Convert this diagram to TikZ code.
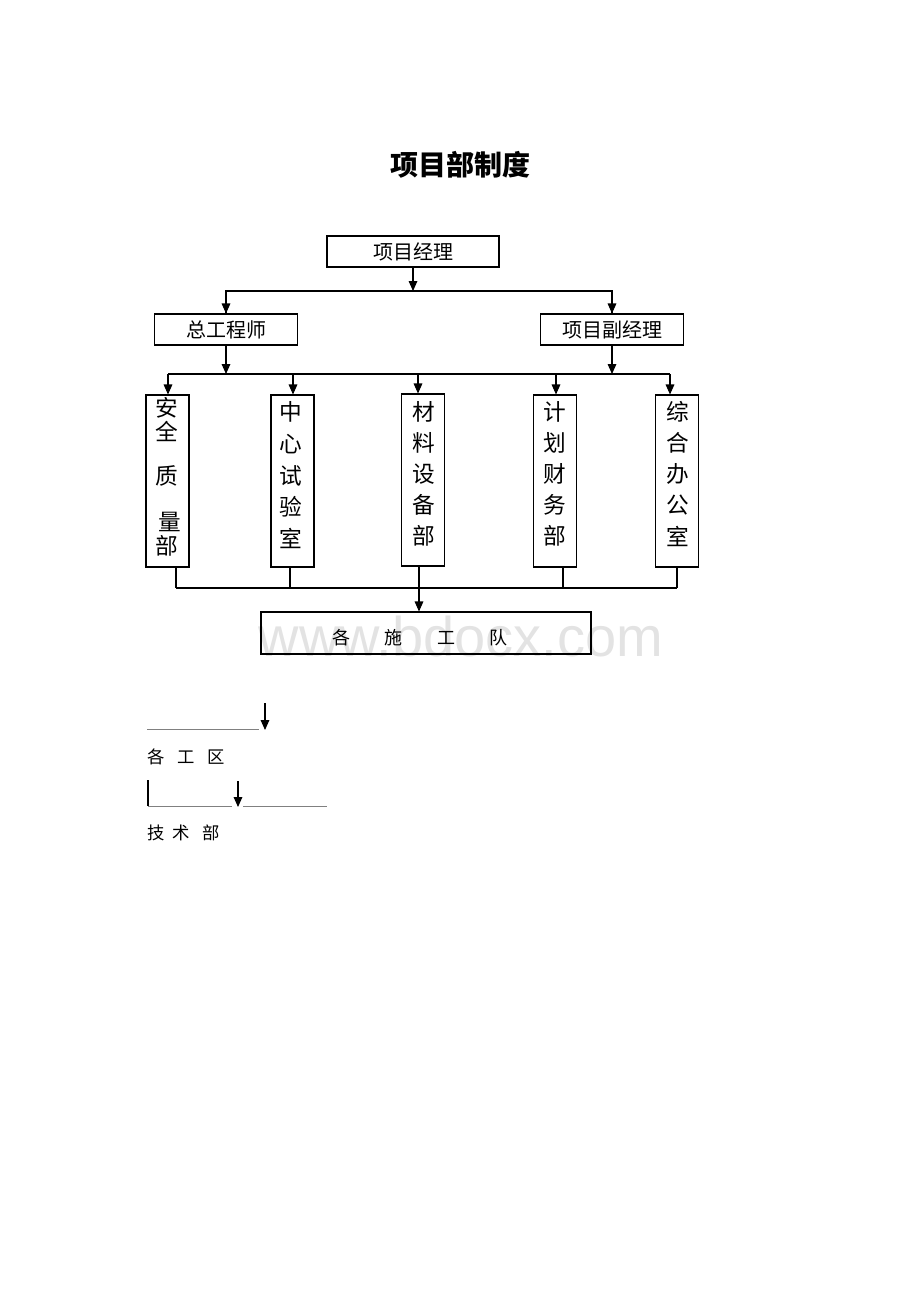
\documentclass[tikz,border=0pt]{standalone}
\usepackage{fontspec}
\setmainfont{Noto Sans CJK SC}
\newfontfamily\wmfont{Liberation Sans}
\usetikzlibrary{arrows.meta}
\begin{document}
\begin{tikzpicture}[x=0.75pt,y=-0.75pt,
  box/.style={draw, line width=0.8pt, inner sep=0pt, minimum height=23.25pt, font=\fontsize{15}{18}\selectfont},
  vbox/.style={draw, line width=0.8pt, inner sep=0pt, minimum width=32.25pt, minimum height=129pt},
  vch/.style={inner sep=0pt, font=\fontsize{17}{20}\selectfont},
  arr/.style={line width=0.8pt, -{Triangle[length=7.5pt,width=6.5pt]}},
  ln/.style={line width=0.8pt},
  uline/.style={line width=0.6pt, draw=gray},
  small/.style={inner sep=0pt, font=\fontsize{13}{15}\selectfont, anchor=west}]
\useasboundingbox (0,0) rectangle (920,1302);
% watermark
\node[text=black!11, font=\wmfont\fontsize{42}{42}\selectfont, inner sep=0pt] (wm) at (461,636) {www.bdocx.com};
% title
\node[font=\bfseries\fontsize{21}{25}\selectfont, inner sep=0pt] (title) at (460,165) {项目部制度};
% top boxes
\node[box, minimum width=129pt] (pm) at (413,251.5) {项目经理};
\node[box, minimum width=107.25pt] (ce) at (226,329.5) {总工程师};
\node[box, minimum width=107.25pt] (dm) at (612,329.5) {项目副经理};
\coordinate (j1) at (413,291);
\draw[arr] (pm.south) -- (j1);
\draw[ln] (j1) -| (ce.north);
\draw[ln] (j1) -| (dm.north);
\draw[arr] (j1 -| ce.north) -- (ce.north);
\draw[arr] (j1 -| dm.north) -- (dm.north);
% second bus
\coordinate (j2) at (226,374);
\coordinate (j3) at (612,374);
\draw[arr] (ce.south) -- (j2);
\draw[arr] (dm.south) -- (j3);
\node[vbox] (v1) at (167.5,481) {};
\node[vbox] (v2) at (292.5,481) {};
\node[vbox] (v3) at (423,480) {};
\node[vbox] (v4) at (555,481) {};
\node[vbox] (v5) at (677,481) {};
\coordinate (t1) at (168,374);
\coordinate (t2) at (293,374);
\coordinate (t3) at (418,374);
\coordinate (t4) at (556,374);
\coordinate (t5) at (670,374);
\draw[ln] (t1) -- (t5);
\foreach \i in {1,...,5} \draw[arr] (t\i) -- (t\i |- v\i.north);
% vertical texts
\foreach \c/\x/\y [count=\k] in {安/167/408,全/167/431,质/167/476,量/170/522,部/167/546}
  \node[vch] (a\k) at (\x,\y) {\c};
\foreach \c/\y [count=\k] in {中/412,心/444,试/476,验/507,室/538}
  \node[vch] (b\k) at (291,\y) {\c};
\foreach \c/\y [count=\k] in {材/412,料/443,设/474,备/505,部/536}
  \node[vch] (c\k) at (424,\y) {\c};
\foreach \c/\y [count=\k] in {计/412,划/443,财/474,务/505,部/536}
  \node[vch] (d\k) at (555,\y) {\c};
\foreach \c/\y [count=\k] in {综/412,合/443,办/474,公/505,室/536}
  \node[vch] (e\k) at (678,\y) {\c};
% bottom bus
\node[draw, line width=0.8pt, inner sep=0pt, minimum width=247.5pt, minimum height=31.5pt] (team) at (426,633) {};
\node[inner sep=0pt, font=\fontsize{13.5}{16}\selectfont] (teamt) at (420,638) {各\hspace{26pt}施\hspace{26pt}工\hspace{26pt}队};
\coordinate (u1) at (176,588);
\coordinate (u2) at (290,588);
\coordinate (u3) at (419,588);
\coordinate (u4) at (563,588);
\coordinate (u5) at (677,588);
\draw[ln] (u1) -- (u5);
\foreach \i in {1,2,4,5} \draw[ln] (v\i.south -| u\i) -- (u\i);
\draw[arr] (v3.south -| u3) -- (team.north -| u3);
% lower notes
\coordinate (l1a) at (147,729);
\coordinate (l1b) at (259,729);
\draw[uline] (l1a) -- (l1b);
\coordinate (a1s) at (265,703);
\coordinate (a1e) at (265,730);
\draw[arr] (a1s) -- (a1e);
\node[small] (gq) at (147,757) {各\hspace{9.5pt}工\hspace{9.5pt}区};
\coordinate (k1) at (148,780);
\coordinate (k2) at (148,806);
\coordinate (k3) at (232,806);
\coordinate (k4) at (243,806);
\coordinate (k5) at (327,806);
\draw[line width=1.2pt] (k1) -- (k2);
\draw[uline] (k2) -- (k3);
\draw[uline] (k4) -- (k5);
\coordinate (a2s) at (238,781);
\coordinate (a2e) at (238,807);
\draw[arr] (a2s) -- (a2e);
\node[small] (js) at (147,833) {技\hspace{6pt}术\hspace{9.5pt}部};
\end{tikzpicture}
\end{document}
